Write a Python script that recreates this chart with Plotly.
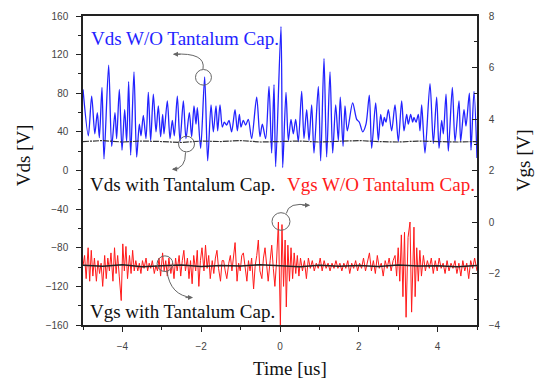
import plotly.graph_objects as go

# ---------------- data ----------------
# Vds without tantalum capacitor (left axis, V) - extrema
vds_t = [-5.0, -4.865, -4.78, -4.70, -4.636, -4.585, -4.518, -4.467, -4.349, -4.272,
         -4.188, -4.146, -4.078, -4.010, -3.942, -3.892, -3.841, -3.790, -3.706, -3.638,
         -3.570, -3.528, -3.469, -3.401, -3.342, -3.283, -3.215, -3.147, -3.088, -3.029,
         -2.978, -2.944, -2.860, -2.792, -2.733, -2.682, -2.606, -2.538, -2.453, -2.386,
         -2.301, -2.242, -2.183, -2.132, -2.098, -2.014, -1.912, -1.836, -1.751, -1.692,
         -1.624, -1.582, -1.523, -1.464, -1.413, -1.354, -1.294, -1.227, -1.142, -1.083,
         -1.032, -0.990, -0.931, -0.872, -0.804, -0.719, -0.592, -0.508, -0.448, -0.364,
         -0.279, -0.212, -0.152, -0.110, 0.025, 0.068, 0.152, 0.212, 0.279, 0.338,
         0.398, 0.465, 0.550, 0.609, 0.677, 0.736, 0.804, 0.863, 0.973, 1.032,
         1.117, 1.184, 1.269, 1.337, 1.413, 1.481, 1.53, 1.60, 1.650, 1.709,
         1.844, 1.946, 2.014, 2.098, 2.183, 2.267, 2.327, 2.428, 2.496, 2.555,
         2.606, 2.648, 2.690, 2.750, 2.834, 2.919, 3.003, 3.088, 3.147, 3.215,
         3.257, 3.316, 3.367, 3.401, 3.452, 3.511, 3.553, 3.596, 3.680, 3.807,
         3.892, 3.976, 4.036, 4.103, 4.146, 4.214, 4.272, 4.374, 4.442, 4.543,
         4.585, 4.670, 4.721, 4.806, 4.848, 4.924, 5.0]
vds_v = [84, 36, 77, 38, 60, 34, 86, 12, 109, 25,
         60, 33, 84, 21, 63, 30, 92, 16, 102, 14,
         48, 36, 57, 33, 81, 31, 79, 40, 67, 35,
         58, 38, 72, 33, 52, 36, 77, 30, 72, 33,
         60, 35, 67, 48, 65, 23, 97, 10, 68, 40,
         67, 41, 68, 45, 50, 47, 52, 40, 63, 41,
         58, 45, 52, 47, 53, 33, 76, 35, 48, 33,
         87, 18, 89, 4, 149, 3, 81, 31, 53, 38,
         53, 30, 82, 33, 63, 31, 68, 18, 87, 10,
         116, 14, 102, 18, 68, 31, 76, 25, 67, 41,
         70, 53, 50, 40, 48, 78, 23, 70, 31, 58,
         46, 55, 50, 63, 41, 68, 30, 72, 41, 58,
         48, 58, 50, 55, 50, 58, 41, 68, 18, 90,
         28, 76, 23, 52, 38, 79, 20, 86, 30, 72,
         30, 63, 46, 80, 21, 82, 13]

# Vds with tantalum capacitor (left axis, V)
vds_cap_t = [-5.0, -4.5, -4.0, -3.5, -3.0, -2.5, -2.0, -1.5, -1.0, -0.5,
             0.0, 0.5, 1.0, 1.5, 2.0, 2.5, 3.0, 3.5, 4.0, 4.5, 5.0]
vds_cap_v = [30, 31, 29.5, 30.5, 30, 29, 30.5, 30, 31, 29.5,
             30, 30.5, 29.5, 30, 31, 30, 29.5, 30.5, 30, 29.5, 30]

# Vgs without tantalum capacitor (right axis, V)
vgs_t = [-5.00, -4.96, -4.92, -4.87, -4.83, -4.79, -4.75, -4.71, -4.66, -4.62,
         -4.58, -4.54, -4.50, -4.45, -4.41, -4.37, -4.33, -4.29, -4.24, -4.20,
         -4.16, -4.12, -4.08, -4.03, -3.99, -3.95, -3.91, -3.87, -3.82, -3.78,
         -3.74, -3.70, -3.66, -3.61, -3.57, -3.53, -3.49, -3.45, -3.40, -3.36,
         -3.32, -3.28, -3.24, -3.19, -3.15, -3.11, -3.07, -3.03, -2.98, -2.94,
         -2.90, -2.86, -2.82, -2.77, -2.73, -2.69, -2.65, -2.61, -2.56, -2.52,
         -2.48, -2.44, -2.40, -2.35, -2.31, -2.27, -2.23, -2.19, -2.14, -2.10,
         -2.06, -2.02, -1.98, -1.93, -1.89, -1.85, -1.81, -1.77, -1.72, -1.68,
         -1.64, -1.60, -1.56, -1.51, -1.47, -1.43, -1.39, -1.35, -1.30, -1.26,
         -1.22, -1.18, -1.14, -1.09, -1.05, -1.01, -0.97, -0.93, -0.88, -0.84,
         -0.80, -0.76, -0.72, -0.67, -0.63, -0.59, -0.55, -0.51, -0.46, -0.42,
         -0.38, -0.34, -0.30, -0.25, -0.21, -0.17, -0.13, -0.09, -0.04, 0.01,
         0.05, 0.09, 0.13, 0.16, 0.20, 0.24, 0.28, 0.32, 0.36, 0.40,
         0.44, 0.48, 0.52, 0.57, 0.62, 0.67, 0.72, 0.77, 0.82, 0.87,
         0.92, 0.97, 1.02, 1.07, 1.12, 1.17, 1.22, 1.27, 1.32, 1.37,
         1.42, 1.47, 1.52, 1.57, 1.62, 1.67, 1.72, 1.77, 1.82, 1.87,
         1.92, 1.97, 2.02, 2.07, 2.12, 2.17, 2.22, 2.27, 2.32, 2.37,
         2.42, 2.47, 2.52, 2.57, 2.62, 2.67, 2.72, 2.77, 2.82, 2.87,
         2.92, 2.96, 3.00, 3.04, 3.08, 3.12, 3.16, 3.20, 3.25, 3.30,
         3.34, 3.40, 3.43, 3.47, 3.51, 3.55, 3.59, 3.64, 3.69, 3.74,
         3.79, 3.84, 3.89, 3.94, 3.99, 4.04, 4.09, 4.14, 4.19, 4.24,
         4.29, 4.34, 4.39, 4.44, 4.49, 4.54, 4.59, 4.64, 4.69, 4.74,
         4.79, 4.84, 4.89, 4.94, 5.00]
vgs_v = [-1.7, -1.3, -2.2, -1.0, -2.3, -1.1, -2.1, -1.4, -2.3, -1.5,
         -2.0, -1.6, -2.5, -1.3, -2.2, -1.4, -1.9, -1.2, -2.3, -1.0,
         -2.0, -1.3, -2.1, -3.05, -0.85, -1.9, -0.95, -2.2, -1.3, -2.0,
         -1.1, -1.9, -1.5, -1.9, -1.6, -2.0, -1.5, -1.8, -1.4, -1.9,
         -1.6, -1.8, -1.5, -2.0, -1.7, -1.9, -1.4, -2.1, -1.2, -1.9,
         -1.5, -2.1, -1.4, -2.0, -1.6, -2.2, -1.4, -1.9, -1.3, -2.1,
         -1.5, -1.1, -1.9, -1.4, -2.2, -1.5, -2.4, -1.3, -1.9, -1.1,
         -2.5, -1.5, -1.0, -1.9, -0.9, -1.8, -1.3, -2.2, -1.5, -2.0,
         -1.4, -1.1, -1.8, -2.3, -1.5, -1.5, -1.9, -2.2, -1.6, -1.3,
         -1.9, -1.4, -0.8, -2.3, -1.6, -1.9, -1.3, -1.2, -1.8, -2.3,
         -1.5, -1.9, -1.4, -2.6, -1.7, -1.3, -0.7, -1.9, -2.2, -1.4,
         -1.0, -1.8, -2.3, -1.5, -0.9, -1.8, -2.5, -1.6, 0.0, -4.0,
         -0.1, -2.5, -0.7, -3.3, -0.9, -2.3, -1.0, -2.2, -1.2, -2.0,
         -1.3, -2.1, -1.4, -1.9, -1.5, -2.2, -1.4, -1.8, -1.5, -1.9,
         -1.6, -1.8, -1.4, -1.9, -1.5, -1.8, -1.6, -1.9, -1.6, -1.8,
         -1.5, -1.8, -1.6, -1.9, -1.6, -1.8, -1.5, -2.0, -1.6, -1.8,
         -1.5, -1.9, -1.6, -1.8, -1.4, -1.9, -1.5, -1.2, -1.9, -1.5,
         -2.0, -1.3, -1.8, -1.6, -2.1, -1.5, -1.8, -1.4, -1.9, -1.5,
         -1.3, -2.1, -1.0, -2.3, -0.5, -2.9, -0.4, -3.7, -0.6, 0.0,
         -3.5, -0.2, -2.9, -1.0, -2.3, -1.1, -2.1, -1.3, -1.9, -1.5,
         -1.8, -1.4, -2.0, -1.5, -1.9, -1.4, -1.8, -1.6, -2.0, -1.5,
         -1.9, -1.6, -1.8, -1.5, -2.0, -1.6, -2.1, -1.5, -1.9, -1.6,
         -2.2, -1.5, -1.8, -1.4, -1.9]

# Vgs with tantalum capacitor (right axis, V)
vgs_cap_t = [-5.0, -4.5, -4.0, -3.5, -3.0, -2.5, -2.0, -1.5, -1.0, -0.5,
             0.0, 0.5, 1.0, 1.5, 2.0, 2.5, 3.0, 3.5, 4.0, 4.5, 5.0]
vgs_cap_v = [-1.68, -1.72, -1.66, -1.74, -1.70, -1.67, -1.73, -1.69, -1.71, -1.66,
             -1.70, -1.74, -1.68, -1.72, -1.69, -1.73, -1.67, -1.71, -1.70, -1.74, -1.69]

x_ticks = [-4, -2, 0, 2, 4]
vds_ticks = [160, 120, 80, 40, 0, -40, -80, -120, -160]
vgs_ticks = [8, 6, 4, 2, 0, -2, -4]

# ---------------- figure ----------------
fig = go.Figure()
fig.add_trace(go.Scatter(x=vds_t, y=vds_v, mode="lines",
                         line=dict(color="#2323ff", width=1.3, shape="spline", smoothing=0.8),
                         yaxis="y", showlegend=False))
fig.add_trace(go.Scatter(x=vds_cap_t, y=vds_cap_v, mode="lines",
                         line=dict(color="#333333", width=1.2, dash="6px,1px,2px,1px"),
                         yaxis="y", showlegend=False))
fig.add_trace(go.Scatter(x=vgs_t, y=vgs_v, mode="lines",
                         line=dict(color="#ff1a1a", width=1.0),
                         yaxis="y2", showlegend=False))
fig.add_trace(go.Scatter(x=vgs_cap_t, y=vgs_cap_v, mode="lines",
                         line=dict(color="#222222", width=1.6),
                         yaxis="y2", showlegend=False))

tickfont = dict(family="Liberation Sans, Arial", size=10, color="#444444")
serif = "Liberation Serif, Times New Roman, serif"

fig.update_layout(
    width=540, height=384,
    margin=dict(l=83, r=63, t=10, b=59),
    paper_bgcolor="white", plot_bgcolor="white",
    xaxis=dict(range=[-5, 5], tickvals=x_ticks, ticks="outside", ticklen=5,
               tickwidth=1.2, tickcolor="#222", showline=True, linecolor="#222",
               linewidth=1.5, mirror=True, showgrid=False, zeroline=False,
               tickfont=tickfont, ticklabelstandoff=6,
               minor=dict(dtick=1, ticks="outside", ticklen=3, tickcolor="#222")),
    yaxis=dict(range=[-160, 160], tickvals=vds_ticks, ticks="outside", ticklen=5,
               tickwidth=1.2, tickcolor="#222", showline=True, linecolor="#222",
               linewidth=1.5, showgrid=False, zeroline=False, tickfont=tickfont,
               ticklabelstandoff=6,
               minor=dict(dtick=20, ticks="outside", ticklen=3, tickcolor="#222")),
    yaxis2=dict(range=[-4, 8], tickvals=vgs_ticks, overlaying="y", side="right",
                ticks="inside", ticklen=5, tickwidth=1.2, tickcolor="#222",
                showline=True, linecolor="#222", linewidth=1.5, showgrid=False,
                zeroline=False, tickfont=tickfont, ticklabelstandoff=8,
                minor=dict(dtick=1, ticks="inside", ticklen=3, tickcolor="#222")),
)

# text labels
labels = [
    ("Vds W/O Tantalum Cap.", -2.4, 137, "#2323ff"),
    ("Vds with Tantalum Cap.", -2.47, -15, "#111111"),
    ("Vgs W/O Tantalum Cap.", 2.56, -15, "#ff1a1a"),
    ("Vgs with Tantalum Cap.", -2.47, -146, "#111111"),
]
for txt, x, y, col in labels:
    fig.add_annotation(x=x, y=y, xref="x", yref="y", text=txt, showarrow=False,
                       xanchor="center", yanchor="middle",
                       font=dict(family=serif, size=19, color=col))

# axis titles placed in pixel positions of the picture, converted to paper fractions
pw, ph = 540 - 83 - 63, 384 - 10 - 59
titles = [("Vds [V]", 23, 152, -90), ("Vgs [V]", 523, 157, -90), ("Time [us]", 290, 369, 0)]
for txt, px, py, ang in titles:
    fig.add_annotation(x=(px - 83) / pw, y=(384 - py - 59) / ph, xref="paper", yref="paper",
                       text=txt, showarrow=False, textangle=ang,
                       xanchor="center", yanchor="middle",
                       font=dict(family=serif, size=19, color="#111"))

# circles
circles = [(-2.145, -1.74, 88.4, 104.6), (-2.575, -2.17, 19.3, 35.5),
           (-0.203, 0.253, -61.9, -43.7), (-3.12, -2.72, -104.6, -88.4)]
for x0, x1, y0, y1 in circles:
    fig.add_shape(type="circle", xref="x", yref="y", x0=x0, x1=x1, y0=y0, y1=y1,
                  line=dict(color="#666666", width=1))

# curved arrows
paths = [
    ("M -1.954,105.1 Q -1.878,122.4 -2.70,120.4", -2.716, 120.4, 9, 0),
    ("M -2.398,18.8 Q -2.39,1.5 -2.72,1.5", -2.741, 1.0, 8, -1),
    ("M 0.16,-44.5 Q 0.21,-32 0.745,-36.1", 0.761, -36.1, -9, 0),
    ("M -2.868,-104.1 Q -2.79,-129.5 -2.23,-131.6", -2.208, -131.6, -9, 0),
]
for p, hx, hy, ax, ay in paths:
    fig.add_shape(type="path", xref="x", yref="y", path=p,
                  line=dict(color="#666666", width=1))
    fig.add_annotation(x=hx, y=hy, xref="x", yref="y", ax=ax, ay=ay, text="",
                       showarrow=True, arrowhead=2, arrowsize=1, arrowwidth=1,
                       arrowcolor="#666666")

fig.write_html("out.html")
